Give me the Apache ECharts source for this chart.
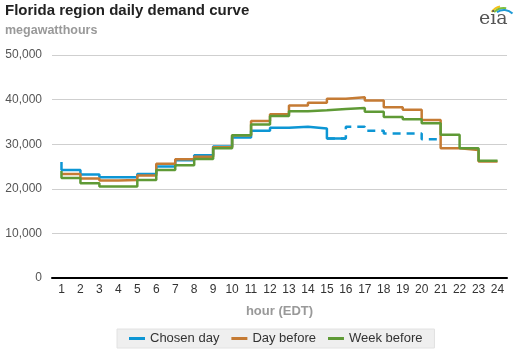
<!DOCTYPE html>
<html>
<head>
<meta charset="utf-8">
<script src="https://cdn.jsdelivr.net/npm/echarts@6/dist/echarts.min.js"></script>
<style>
  html, body { margin: 0; padding: 0; background: #fff; }
  #chart { width: 514px; height: 353px; }
</style>
</head>
<body>
<div id="chart"></div>
<script>
// hours on the x axis
var hours = ['1', '2', '3', '4', '5', '6', '7', '8', '9', '10', '11', '12',
    '13', '14', '15', '16', '17', '18', '19', '20', '21', '22', '23', '24'];
var yTicks = [0, 10000, 20000, 30000, 40000, 50000];

// demand, megawatthours (value at hour h = level held from h-1 to h)
var chosenDay = [26000, 24200, 23200, 22600, 22600, 23300, 25000, 26400, 27500, 29500, 31500, 33000,
    33700, 33900, 33500, 31300, null, null, null, null, null, null, null, null];
var chosenDayForecast = [null, null, null, null, null, null, null, null, null, null, null, null,
    null, null, null, 31300, 33900, 33000, 32400, 32400, 31100, null, null, null];
var dayBefore = [23300, 23300, 22300, 21850, 22000, 23000, 25600, 26600, 27200, 29300, 32000, 35200,
    36700, 38700, 39300, 40200, 40500, 39800, 38300, 37700, 35400, 29100, 28700, 26100];
var weekBefore = [24000, 22400, 21260, 20520, 20520, 22000, 24200, 25300, 26700, 29100, 32000, 34400,
    36300, 37400, 37600, 37900, 38100, 37300, 36100, 35600, 34700, 32100, 29100, 26300];

var BLUE = '#0d96d4', ORANGE = '#c57b34', GREEN = '#5f9a36';
var FONT = '"Liberation Sans", Arial, sans-serif';

var chart = echarts.init(document.getElementById('chart'));

var option = {
    animation: false,
    textStyle: { fontFamily: FONT },
    title: {
        text: 'Florida region daily demand curve',
        subtext: 'megawatthours',
        left: 5,
        top: 3,
        padding: 0,
        itemGap: 6,
        textStyle: { fontSize: 15, fontWeight: 'bold', color: '#222', fontFamily: FONT },
        subtextStyle: { fontSize: 12.5, fontWeight: 'bold', color: '#999', fontFamily: FONT }
    },
    graphic: [
        { type: 'arc', shape: { cx: 504, cy: 22, r: 16, startAngle: Math.PI * 1.22, endAngle: Math.PI * 1.42 },
          style: { stroke: '#f2c21b', lineWidth: 2, fill: null } },
        { type: 'arc', shape: { cx: 504, cy: 22, r: 14, startAngle: Math.PI * 1.25, endAngle: Math.PI * 1.55 },
          style: { stroke: '#7cbf3f', lineWidth: 2, fill: null } },
        { type: 'arc', shape: { cx: 504, cy: 22, r: 12, startAngle: Math.PI * 1.3, endAngle: Math.PI * 1.75 },
          style: { stroke: '#1f9ad6', lineWidth: 2, fill: null } },
        { type: 'text', left: 479, top: 10,
          style: { text: 'eia', fontFamily: '"DejaVu Serif", "Liberation Serif", serif', fontSize: 19, fill: '#555' } }
    ],
    legend: {
        bottom: 5,
        left: 117,
        data: ['Chosen day', 'Day before', 'Week before'],
        backgroundColor: '#efefef',
        borderColor: '#e2e2e2',
        borderWidth: 1,
        padding: [3, 12, 3, 12],
        itemGap: 12,
        itemWidth: 16,
        itemHeight: 3,
        icon: 'rect',
        textStyle: { fontSize: 13, color: '#333', fontFamily: FONT }
    },
    grid: { left: 52, right: 7, top: 55, bottom: 75, containLabel: false },
    xAxis: {
        type: 'category',
        data: hours,
        boundaryGap: true,
        name: 'hour (EDT)',
        nameLocation: 'middle',
        nameGap: 27,
        nameTextStyle: { fontSize: 13, fontWeight: 'bold', color: '#999', fontFamily: FONT },
        axisLine: { lineStyle: { color: '#000', width: 2 } },
        axisTick: { alignWithLabel: true, length: 4, lineStyle: { color: '#000' } },
        axisLabel: { fontSize: 12, color: '#333', margin: 6, interval: 0 }
    },
    yAxis: {
        type: 'value',
        min: yTicks[0],
        max: yTicks[yTicks.length - 1],
        interval: 10000,
        axisLine: { show: false },
        axisTick: { show: false },
        axisLabel: {
            fontSize: 12, color: '#555', margin: 10,
            formatter: function (v) { return v.toLocaleString('en-US'); }
        },
        splitLine: { lineStyle: { color: '#cfcfcf', width: 1 } }
    },
    series: [{
        name: 'Chosen day',
        type: 'line',
        step: 'start',
        data: chosenDay,
        symbol: 'none',
        color: BLUE,
        lineStyle: { width: 2.5, color: BLUE }
    }, {
        name: 'Chosen day',
        type: 'line',
        step: 'start',
        data: chosenDayForecast,
        symbol: 'none',
        color: BLUE,
        lineStyle: { width: 2.5, color: BLUE, type: [8, 6] }
    }, {
        name: 'Day before',
        type: 'line',
        step: 'start',
        data: dayBefore,
        symbol: 'none',
        color: ORANGE,
        lineStyle: { width: 2.5, color: ORANGE }
    }, {
        name: 'Week before',
        type: 'line',
        step: 'start',
        data: weekBefore,
        symbol: 'none',
        color: GREEN,
        lineStyle: { width: 2.5, color: GREEN }
    }]
};
chart.setOption(option);
</script>
</body>
</html>
